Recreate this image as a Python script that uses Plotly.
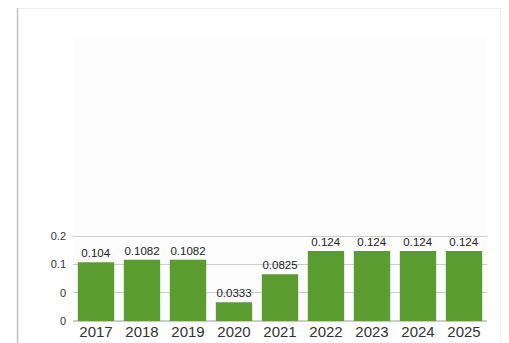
import plotly.graph_objects as go

years = ["2017", "2018", "2019", "2020", "2021", "2022", "2023", "2024", "2025"]
values = [0.104, 0.1082, 0.1082, 0.0333, 0.0825, 0.124, 0.124, 0.124, 0.124]
labels = ["0.104", "0.1082", "0.1082", "0.0333", "0.0825", "0.124", "0.124", "0.124", "0.124"]
y_tickvals = [0, 0.05, 0.1, 0.15]
y_ticktext = ["0", "0", "0.1", "0.2"]

fig = go.Figure(go.Bar(
    x=years, y=values, text=labels, textposition="outside",
    textfont=dict(size=11.5, color="#222222"),
    marker=dict(color="#5a9c30", line=dict(width=0)),
    cliponaxis=False,
))

fig.update_layout(
    width=501, height=335,
    margin=dict(l=65, r=22, t=27, b=22),
    paper_bgcolor="white", plot_bgcolor="#fdfdfd",
    font=dict(family="Liberation Sans, Arial, sans-serif", color="#333333"),
    bargap=0.21, showlegend=False,
    xaxis=dict(showgrid=False, tickfont=dict(size=15, color="#333333"), ticks="",
               fixedrange=True, automargin=False, ticklabelstandoff=0),
    yaxis=dict(range=[0, 0.506], tickvals=y_tickvals, ticktext=y_ticktext,
               tickfont=dict(size=11, color="#333333"), gridcolor="#cccccc",
               zeroline=True, zerolinecolor="#cccccc", ticks="", ticklabelstandoff=6,
               automargin=False),
    shapes=[dict(type="rect", xref="paper", yref="paper",
                 x0=-0.134, x1=1.035, y0=-0.09, y1=1.096,
                 line=dict(color="#c0c0c0", width=1.5), fillcolor="rgba(0,0,0,0)", layer="below")],
)

fig.write_html("out.html")
